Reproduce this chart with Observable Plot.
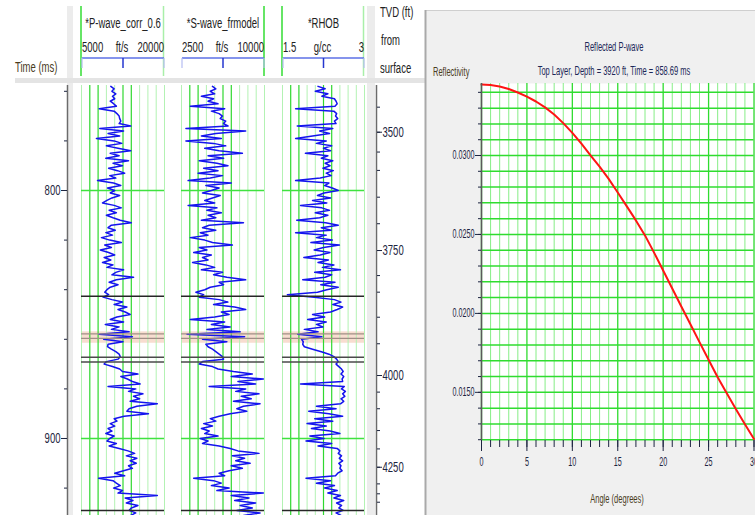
<!DOCTYPE html>
<html>
<head>
<meta charset="utf-8">
<script src="https://cdn.jsdelivr.net/npm/d3@7"></script>
<script src="https://cdn.jsdelivr.net/npm/@observablehq/plot@0.6"></script>
<style>
  body { margin: 0; background: #ffffff; }
  #root { position: relative; width: 755px; height: 515px; overflow: hidden; background: #ffffff;
          font-family: "Liberation Sans", Arial, sans-serif; }
  #root svg { position: absolute; overflow: visible; }
</style>
</head>
<body>
<div id="root"></div>
<script>
// ---------- Well log samples, one per millisecond of two-way time ----------
const sampleStartMs = 758;

// P-wave velocity (ft/s)
const pWave = [
  10300,10900,10500,11200,10600,11000,10200,10800,11300,8200,   // 758-767
  10900,11400,11800,11900,12100,11800,13900,8300,12600,9800,    // 768-777
  11900,7700,10900,12300,9500,11600,13900,10200,11800,9400,     // 778-787
  13500,10700,12400,9900,11500,12800,10100,11200,7900,10800,    // 788-797
  12100,9700,11000,10200,11900,10500,9600,8800,10900,12200,     // 798-807
  10000,11300,9500,10700,12000,14000,10400,9800,11100,9400,     // 808-817
  10600,8600,10100,12200,9200,10400,8400,9900,11000,9100,       // 818-827
  10300,8800,10700,9600,12600,11200,10500,14400,11300,10000,    // 828-837
  11600,10200,9600,9200,9900,8900,10500,12400,10900,13200,      // 838-847
  11600,12900,13800,11400,10200,12600,9300,11800,10400,13600,   // 848-857
  8200,14200,9000,12500,9800,9700,10400,11200,11800,12000,      // 858-867
  11600,9500,9100,10600,11900,12400,15200,12100,13300,14200,    // 868-877
  15600,9800,14800,13500,16100,14400,15500,13800,18700,15000,   // 878-887
  13600,13200,17100,12700,10900,11400,10200,11000,9800,10500,   // 888-897
  9400,10900,10100,9600,11300,10000,11800,13400,14600,13100,    // 898-907
  15000,13800,14900,13500,14200,12600,11000,12800,8100,10700,   // 908-917
  11300,12000,10800,12400,11600,18700,12900,14300,13100,15200,  // 918-927
  14000,13600,14800,13900                                      // 928-931
];

// S-wave velocity from model (ft/s)
const sWave = [
  5300,5600,5100,5500,4300,5400,4900,5800,3300,6400,
  5200,5900,6200,6000,6500,6300,6700,2900,8300,5600,
  4300,6100,2900,5400,6500,4600,5900,8000,4900,6300,
  4100,5700,6700,4500,5800,4000,6200,5100,3100,7000,
  4700,5900,5200,4400,6000,5300,4600,5500,3100,5700,
  4800,6100,4900,5600,4300,8100,5000,4400,5600,4200,
  4900,3300,4600,5300,7100,4100,4800,3600,5200,4400,
  4900,3500,4700,5500,4300,6200,5400,6600,8300,5900,
  6300,5100,4600,3800,4500,4100,5900,6700,5400,7300,
  8300,6100,6800,5500,3300,6400,5200,6900,4800,7800,
  3000,8200,4400,6600,4700,4900,5300,5600,5900,6200,
  6300,4400,4100,5300,5800,7200,8900,7000,9900,7600,
  9200,5000,8300,7400,9500,7900,8800,7200,9600,8100,
  7500,8400,6900,5900,5100,5600,4500,5300,4300,5000,
  4600,5800,4200,4900,4400,5900,6900,7600,9500,7100,
  8200,7400,8700,7000,8000,6800,5900,6400,3600,5400,
  6100,5200,6800,5700,9900,7000,8600,7300,9200,7800,
  8900,7500,9600,8100
];

// Bulk density (g/cc)
const rhob = [
  2.15,2.28,2.10,2.33,2.22,2.45,2.48,2.50,2.46,1.74,
  2.44,2.49,2.47,2.51,2.45,2.48,1.77,2.42,2.18,2.36,
  2.05,1.74,2.30,2.12,2.40,2.25,2.38,1.92,2.33,2.21,
  2.42,2.28,2.37,2.24,2.43,2.30,2.39,2.19,1.74,2.35,
  2.27,2.41,2.52,2.26,2.14,2.38,2.05,2.31,1.83,2.22,
  2.36,2.10,2.33,2.18,1.76,2.29,2.52,2.21,2.39,1.74,
  2.30,2.12,2.41,2.02,2.54,2.25,2.08,2.37,2.19,1.89,
  2.34,2.15,2.44,2.23,2.56,2.09,2.40,2.28,1.87,2.46,
  2.20,2.52,2.31,2.14,1.59,2.08,2.45,2.57,2.42,2.60,
  2.50,2.38,2.05,2.27,1.96,2.30,2.12,2.24,1.90,2.15,
  1.78,2.22,1.85,1.88,1.87,1.90,2.05,2.21,2.35,2.44,
  2.49,2.52,2.48,2.53,2.58,2.61,2.57,2.62,2.59,2.60,
  1.83,2.63,2.58,2.65,2.60,2.64,2.57,2.62,2.56,2.12,
  2.48,1.98,2.35,2.60,2.09,2.42,1.95,2.30,2.03,2.37,
  2.55,2.00,2.26,1.93,2.40,2.15,2.50,2.55,2.52,2.58,
  2.54,2.60,2.53,2.57,2.55,2.59,2.51,2.47,1.93,2.38,
  2.12,2.45,2.27,2.50,2.33,2.56,2.44,2.62,2.49,2.58,
  2.53,2.61,2.48,2.57
];

// ---------- Time axis, time-depth table, horizons ----------
const timeDomainMs = [757.66, 931.05];
const timeMinorTicks = [760, 780, 800, 820, 840, 860, 880, 900, 920];
const timeLabelTicks = [800, 900];
const timeGridLines = [800, 900];

const tvdFeet   = [3450, 3500, 3550, 3600, 3650, 3700, 3750, 3800, 3850, 3900,
                   3950, 4000, 4050, 4100, 4150, 4200, 4250, 4300, 4350, 4400];
const tvdTimeMs = [766.4, 776.5, 784.5, 791.9, 802.7, 813.4, 824.2, 834.3, 841.0, 851.1,
                   861.8, 874.6, 881.3, 888.0, 896.8, 904.2, 911.6, 918.3, 922.3, 925.7];
const tvdLabelFeet = [3500, 3750, 4000, 4250];

const layerBand = [{top: 857.0, bottom: 861.6}];
const layerLines = [857.8, 859.6];
const horizonTimes = [842.6, 929.0];
const horizonPairTimes = [867.2, 869.2];

// ---------- Track definitions ----------
const tracks = [
  {name: "*P-wave_corr_0.6", unit: "ft/s", lo: "5000", hi: "20000", domain: [5000, 20000], values: pWave, left: 81, width: 83},
  {name: "*S-wave_frmodel",  unit: "ft/s", lo: "2500", hi: "10000", domain: [2500, 10000], values: sWave, left: 181, width: 83},
  {name: "*RHOB",            unit: "g/cc", lo: "1.5",  hi: "3",     domain: [1.5, 3],      values: rhob,  left: 282, width: 82}
];
const brightGridIndex = [1, 2, 5, 6];

// ---------- Reflectivity vs. angle ----------
const reflAngleDeg = [0,1,2,3,4,5,6,7,8,9,10,11,12,13,14,15,16,17,18,19,20,21,22,23,24,25,26,27,28,29,30];
const reflValue = [0.03449,0.03446,0.03437,0.03421,0.03399,0.03373,0.03342,0.03305,0.03260,0.03205,
                   0.03143,0.03075,0.03001,0.02930,0.02852,0.02766,0.02678,0.02589,0.02494,0.02385,
                   0.02272,0.02158,0.02044,0.01931,0.01818,0.01706,0.01596,0.01494,0.01394,0.01298,
                   0.01205];
const reflLabelTicks = [0.015, 0.020, 0.025, 0.030];
const reflGridValues = [0.012,0.013,0.014,0.015,0.016,0.017,0.018,0.019,0.020,0.021,0.022,0.023,
                        0.024,0.025,0.026,0.027,0.028,0.029,0.030,0.031,0.032,0.033,0.034];
const angleLabelTicks = [0, 5, 10, 15, 20, 25, 30];

// ---------- Helpers ----------
const root = document.getElementById("root");
const FONT = "Liberation Sans, Arial, sans-serif";
const INK = "#1d2540";

function place(node, left, top) {
  node.style.left = left + "px";
  node.style.top = top + "px";
  root.appendChild(node);
  return node;
}

// Narrow the lettering horizontally around each text's own anchor point.
function condense(svg, sx) {
  svg.querySelectorAll("text").forEach(t => {
    const x = parseFloat(t.getAttribute("x"));
    const ax = Number.isFinite(x) ? x : 0;
    const tr = t.getAttribute("transform") || "";
    t.setAttribute("transform", `${tr} translate(${ax},0) scale(${sx},1) translate(${-ax},0)`.trim());
  });
}

const baseStyle = {background: "transparent", fontFamily: FONT, fontSize: "14px", color: INK, overflow: "visible"};

// ---------- Background panels ----------
const bg = d3.create("svg").attr("width", 755).attr("height", 515);
bg.append("rect").attr("x", 67).attr("y", 6).attr("width", 6).attr("height", 509).attr("fill", "#ececec");
bg.append("rect").attr("x", 367).attr("y", 6).attr("width", 8).attr("height", 509).attr("fill", "#ececec");
bg.append("rect").attr("x", 15).attr("y", 78).attr("width", 410).attr("height", 5).attr("fill", "#e4e4e4");
bg.append("rect").attr("x", 425).attr("y", 10).attr("width", 330).attr("height", 505).attr("fill", "#f0f0f0");
bg.append("line").attr("x1", 425.5).attr("x2", 755).attr("y1", 10.5).attr("y2", 10.5).attr("stroke", "#cfcfcf");
bg.append("line").attr("x1", 425.5).attr("x2", 425.5).attr("y1", 10).attr("y2", 515).attr("stroke", "#a9a9a9").attr("stroke-width", 2);
place(bg.node(), 0, 0);

// ---------- Log tracks ----------
for (const tr of tracks) {
  const rows = tr.values.map((v, i) => ({t: sampleStartMs + i, v}));
  const step = (tr.domain[1] - tr.domain[0]) / 10;
  const grid = d3.range(11).map(i => tr.domain[0] + i * step);
  const bright = grid.filter((d, i) => brightGridIndex.includes(i));
  const light = grid.filter((d, i) => !brightGridIndex.includes(i));
  const svg = Plot.plot({
    width: tr.width, height: 515,
    marginTop: 85, marginBottom: 0, marginLeft: 0, marginRight: 0,
    x: {domain: tr.domain, axis: null},
    y: {domain: timeDomainMs, reverse: true, axis: null},
    style: baseStyle,
    marks: [
      Plot.rect(layerBand, {x1: () => tr.domain[0], x2: () => tr.domain[1], y1: "top", y2: "bottom", fill: "#f8ddd0"}),
      Plot.ruleX(light, {stroke: "#b3f2b3", strokeWidth: 1}),
      Plot.ruleX(bright, {stroke: "#2fd82f", strokeWidth: 1.2}),
      Plot.ruleY(timeGridLines, {stroke: "#3fe23f", strokeWidth: 1.5}),
      Plot.line(rows, {x: "v", y: "t", stroke: "#1414ee", strokeWidth: 1.5}),
      Plot.ruleY(layerLines, {stroke: "#a08f86", strokeWidth: 1.2}),
      Plot.ruleY(horizonPairTimes, {stroke: "#4a4a4a", strokeWidth: 1.5}),
      Plot.ruleY(horizonTimes, {stroke: "#262626", strokeWidth: 1.5})
    ]
  });
  place(svg, tr.left, 0);
}

// ---------- Time axis (ms) ----------
const timeAxis = Plot.plot({
  width: 72, height: 515, marginTop: 85, marginBottom: 0, marginLeft: 67, marginRight: 5,
  x: {domain: [0, 1], axis: null},
  y: {domain: timeDomainMs, reverse: true},
  style: baseStyle,
  marks: [
    Plot.ruleX([0], {stroke: "#6b6b6b", strokeWidth: 1.5}),
    Plot.axisY({ticks: timeMinorTicks, tickSize: 3, tickFormat: () => "", label: null}),
    Plot.axisY({ticks: timeLabelTicks, tickSize: 6, tickPadding: 1, tickFormat: d => String(d), label: null, fontSize: 14})
  ]
});
condense(timeAxis, 0.68);
place(timeAxis, 0, 0);

// ---------- TVD axis (ft) ----------
const depthAtTime = new Map(tvdTimeMs.map((t, i) => [t, tvdFeet[i]]));
const tvdLabelTimes = tvdTimeMs.filter((t, i) => tvdLabelFeet.includes(tvdFeet[i]));
const tvdAxis = Plot.plot({
  width: 60, height: 515, marginTop: 85, marginBottom: 0, marginLeft: 0, marginRight: 50,
  x: {domain: [0, 1], axis: null},
  y: {domain: timeDomainMs, reverse: true},
  style: baseStyle,
  marks: [
    Plot.ruleX([1], {stroke: "#6b6b6b", strokeWidth: 1.5}),
    Plot.axisY({anchor: "right", ticks: tvdTimeMs, tickSize: 3, tickFormat: () => "", label: null}),
    Plot.axisY({anchor: "right", ticks: tvdLabelTimes, tickSize: 5, tickPadding: 1,
                tickFormat: t => String(depthAtTime.get(t)), label: null, fontSize: 14})
  ]
});
condense(tvdAxis, 0.68);
place(tvdAxis, 366, 0);

// ---------- Reflectivity curve ----------
const refl = reflAngleDeg.map((a, i) => ({angle: a, r: reflValue[i]}));
const reflPlot = Plot.plot({
  width: 335, height: 515, marginLeft: 61, marginRight: 1.5, marginTop: 83, marginBottom: 75,
  x: {domain: [0, 30]},
  y: {domain: [0.01195, 0.03456]},
  style: {...baseStyle, fontSize: "12px"},
  marks: [
    Plot.frame({fill: "#ffffff", stroke: null}),
    Plot.ruleX(reflAngleDeg.filter(a => a % 5 !== 0), {stroke: "#5fe85f", strokeWidth: 1, strokeOpacity: 0.75}),
    Plot.ruleX(angleLabelTicks, {stroke: "#2fdc2f", strokeWidth: 1.3}),
    Plot.ruleY(reflGridValues, {stroke: "#2fdc2f", strokeWidth: 1.5}),
    Plot.line(refl, {x: "angle", y: "r", stroke: "#ff1414", strokeWidth: 2}),
    Plot.ruleX([0], {stroke: "#5a5a5a", strokeWidth: 1.5}),
    Plot.axisY({ticks: reflGridValues, tickSize: 3, tickFormat: () => "", label: null}),
    Plot.axisY({ticks: reflLabelTicks, tickSize: 6, tickPadding: 1, tickFormat: d3.format(".4f"), label: null, fontSize: 12}),
    Plot.axisX({ticks: reflAngleDeg, tickSize: 7, tickFormat: () => "", label: null}),
    Plot.axisX({ticks: angleLabelTicks, tickSize: 11, tickPadding: 6, tickFormat: d => String(d), label: null, fontSize: 12})
  ]
});
condense(reflPlot, 0.6);
place(reflPlot, 420, 0);

// ---------- Headers, titles and labels ----------
const ov = d3.create("svg").attr("width", 755).attr("height", 515).style("pointer-events", "none");
function addText(x, y, s, o = {}) {
  ov.append("text")
    .attr("transform", `translate(${x},${y}) scale(${o.sx ?? 0.68},1)`)
    .attr("text-anchor", o.anchor || "start")
    .attr("font-family", FONT)
    .attr("font-size", o.size || 14)
    .attr("fill", o.fill || "#222222")
    .text(s);
}
const headerEdges = [[81, "#33dd33"], [163.5, "#a9efa9"], [264, "#33dd33"], [282, "#33dd33"], [363.5, "#a9efa9"]];
for (const [x, c] of headerEdges) {
  ov.append("line").attr("x1", x).attr("x2", x).attr("y1", 6).attr("y2", 76).attr("stroke", c).attr("stroke-width", 1.5);
}
for (const tr of tracks) {
  const l = tr.left + 1, r = tr.left + tr.width, m = (l + r) / 2;
  addText(m, 28, tr.name, {anchor: "middle"});
  addText(l, 52, tr.lo);
  addText(m - 1, 52, tr.unit, {anchor: "middle"});
  addText(r, 52, tr.hi, {anchor: "end"});
  ov.append("line").attr("x1", l).attr("x2", r).attr("y1", 58).attr("y2", 58).attr("stroke", "#5c70e6").attr("stroke-width", 1.5);
  for (const x of [l, r]) {
    ov.append("line").attr("x1", x).attr("x2", x).attr("y1", 58).attr("y2", 68).attr("stroke", "#b5bdf2").attr("stroke-width", 1.2);
  }
  ov.append("line").attr("x1", m).attr("x2", m).attr("y1", 58).attr("y2", 68).attr("stroke", "#2536cf").attr("stroke-width", 1.5);
}
addText(15, 72, "Time (ms)", {fill: "#4a3c1e"});
addText(380, 17, "TVD (ft)");
addText(381, 45, "from");
addText(380, 73, "surface");

addText(614, 51, "Reflected P-wave", {anchor: "middle", size: 13, sx: 0.58, fill: "#1c2858"});
addText(614, 75, "Top Layer, Depth = 3920 ft, Time = 858.69 ms", {anchor: "middle", size: 13, sx: 0.58, fill: "#1c2858"});
addText(433, 76, "Reflectivity", {size: 13, sx: 0.58, fill: "#4a3c1e"});
addText(617, 503, "Angle (degrees)", {anchor: "middle", size: 13, sx: 0.58, fill: "#4a3c1e"});
place(ov.node(), 0, 0);
</script>
</body>
</html>
